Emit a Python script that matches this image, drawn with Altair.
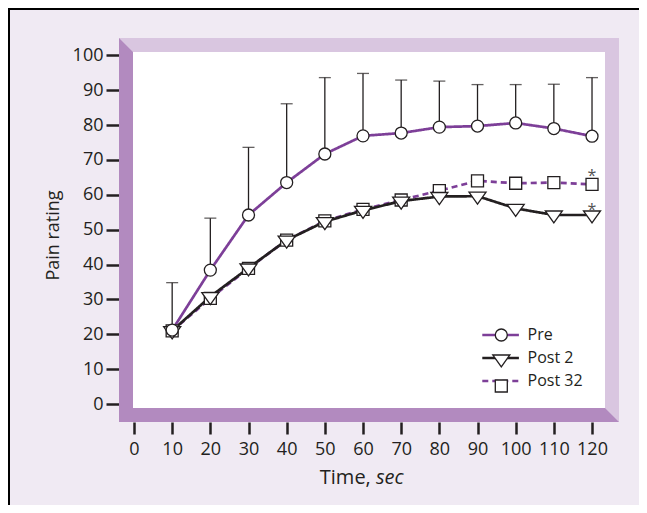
import altair as alt
import pandas as pd

# ---- data ----
times = [10, 20, 30, 40, 50, 60, 70, 80, 90, 100, 110, 120]
pre = [21.2, 38.4, 54.2, 63.5, 71.7, 76.9, 77.7, 79.4, 79.7, 80.6, 79.0, 76.8]
pre_upper = [34.8, 53.3, 73.6, 86.1, 93.6, 94.8, 92.9, 92.6, 91.6, 91.6, 91.7, 93.6]
post2 = [21.0, 30.8, 39.0, 47.0, 52.3, 55.5, 58.2, 59.5, 59.6, 56.1, 54.2, 54.2]
post32 = [21.0, 30.3, 38.9, 47.0, 52.5, 55.8, 58.5, 61.2, 64.0, 63.3, 63.5, 63.0]
series = ["Pre", "Post 2", "Post 32"]
x_ticks = [0, 10, 20, 30, 40, 50, 60, 70, 80, 90, 100, 110, 120]
y_ticks = [0, 10, 20, 30, 40, 50, 60, 70, 80, 90, 100]
star_series = ["Post 32", "Post 2"]
star_time = [120, 120]
star_value = [63.0, 54.2]

FONT = "Open Sans"
INK = "#231F20"
PURPLE = "#7D3F98"
BG = "#F0EAF3"
LIGHT = "#D9C6E0"
DARK = "#B28ABF"

rows = []
for name, vals in [("Post 32", post32), ("Post 2", post2), ("Pre", pre)]:
    for t, v in zip(times, vals):
        rows.append({"time": t, "value": v, "series": name, "m": name})
df = pd.DataFrame(rows)
df_pre = pd.DataFrame({"time": times, "value": pre, "upper": pre_upper})
df_star = pd.DataFrame({"time": star_time, "value": star_value, "series": star_series})

xs = alt.Scale(domain=[-3.93, 127.07], nice=False, zero=False)
ys = alt.Scale(domain=[-5.16, 104.96], nice=False, zero=False)

x_axis = alt.Axis(
    values=x_ticks, domain=False, grid=False, tickSize=12, tickWidth=2.5,
    tickColor=INK, labelFontSize=18, labelFont=FONT, labelColor=INK,
    labelPadding=6, labelOverlap=False, labelFlush=False, title=None)
y_axis = alt.Axis(
    values=y_ticks, domain=False, grid=False, tickSize=13, tickWidth=2.5,
    tickColor=INK, labelFontSize=18, labelFont=FONT, labelColor=INK,
    labelPadding=3, labelOverlap=False, labelFlush=False,
    title="Pain rating", titleFont=FONT, titleFontSize=18, titleFontWeight="normal",
    titleColor=INK, titleX=-66, titleY=197, titleAlign="center", titleBaseline="middle")

x_enc = alt.X("time:Q", scale=xs, axis=x_axis)
y_enc = alt.Y("value:Q", scale=ys, axis=y_axis)

one = alt.Data(values=[{"a": 1}])

frame_dark = alt.Chart(one).mark_point(
    shape="M0,0L14,14L14,370L486,370L500,384L0,384Z", size=4, filled=True,
    fill=DARK, strokeWidth=0, opacity=1
).encode(x=alt.value(0), y=alt.value(0))

frame_white = alt.Chart(one).mark_rect(fill="white").encode(
    x=alt.value(14), x2=alt.value(486), y=alt.value(14), y2=alt.value(370))

border_left = alt.Chart(one).mark_rule(stroke="black", strokeWidth=2).encode(
    x=alt.value(-110), y=alt.value(-30), y2=alt.value(470))
border_top = alt.Chart(one).mark_rule(stroke="black", strokeWidth=2).encode(
    x=alt.value(-111), x2=alt.value(520), y=alt.value(-29))

title_a = alt.Chart(one).mark_text(
    text="Time,", font=FONT, fontSize=20, color=INK, align="right", baseline="alphabetic"
).encode(x=alt.value(251.8), y=alt.value(446))
title_b = alt.Chart(one).mark_text(
    text="sec", font=FONT, fontSize=20, fontStyle="italic", color=INK, align="left",
    baseline="alphabetic"
).encode(x=alt.value(257), y=alt.value(446))

err_rule = alt.Chart(df_pre).mark_rule(color=INK, strokeWidth=1.3).encode(
    x=x_enc, y=y_enc, y2="upper:Q")
err_cap = alt.Chart(df_pre).mark_tick(color=INK, thickness=1.3, size=12, orient="horizontal").encode(
    x=x_enc, y=alt.Y("upper:Q", scale=ys, axis=y_axis))

line_legend = alt.Legend(
    title=None, orient="none", legendX=373.6, legendY=289, symbolType="M-3,0L3,0",
    symbolSize=149, symbolStrokeWidth=2.5, labelFontSize=16, labelFont=FONT,
    labelColor=INK, labelOffset=19, rowPadding=7, padding=0)

lines = alt.Chart(df).mark_line(strokeWidth=2.7).encode(
    x=x_enc, y=y_enc,
    color=alt.Color("series:N", scale=alt.Scale(domain=series, range=[PURPLE, INK, PURPLE]),
                    legend=line_legend),
    strokeDash=alt.StrokeDash("series:N", scale=alt.Scale(domain=series, range=[[1, 0], [1, 0], [6, 4]]),
                              legend=line_legend),
)

TRI = "M-1.42,-0.67L1.42,-0.67L0,1.33Z"
marker_legend = alt.Legend(title=None, orient="none", legendX=374.3, legendY=289,
                           symbolSize=144, symbolStrokeWidth=1.3,
                           labelFontSize=16, labelFont=FONT, labelOpacity=0,
                           labelOffset=19, rowPadding=7, padding=0, zindex=1)
points = alt.Chart(df).mark_point(
    filled=False, fill="white", stroke=INK, strokeWidth=1.3, size=144, opacity=1
).encode(
    x=x_enc, y=y_enc,
    shape=alt.Shape("m:N", sort=series, scale=alt.Scale(range=["circle", TRI, "square"]),
                    legend=marker_legend),
)

star32 = alt.Chart(df_star).transform_filter(alt.datum.series == "Post 32").mark_text(
    text="*", font=FONT, fontSize=16, color="#555555", baseline="middle", dy=-8
).encode(x=x_enc, y=y_enc)
star2 = alt.Chart(df_star).transform_filter(alt.datum.series == "Post 2").mark_text(
    text="*", font=FONT, fontSize=16, color="#555555", baseline="middle", dy=-5
).encode(x=x_enc, y=y_enc)

chart = alt.layer(
    frame_dark, frame_white, border_left, border_top, title_a, title_b,
    err_rule, err_cap, lines, points, star32, star2
).properties(
    width=500, height=384,
    autosize=alt.AutoSizeParams(type="none"),
    padding={"left": 111, "top": 30, "right": 20, "bottom": 83},
).configure(background=BG).configure_view(fill=LIGHT, stroke=None)

chart.save("out.html", embed_options={"renderer": "svg", "actions": False})
